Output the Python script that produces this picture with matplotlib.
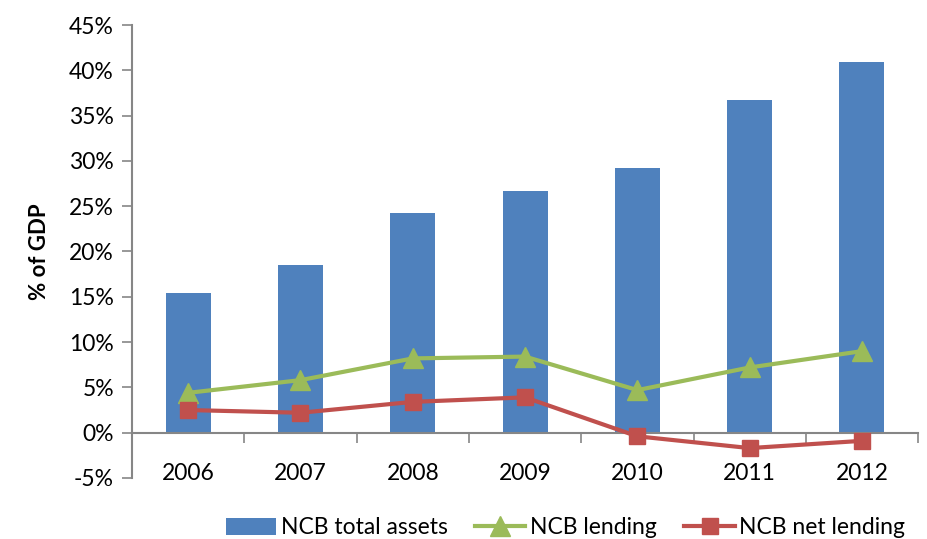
import numpy as np
import matplotlib.pyplot as plt
from matplotlib.ticker import FuncFormatter, MultipleLocator

years = ["2006", "2007", "2008", "2009", "2010", "2011", "2012"]
total_assets = [15.4, 18.5, 24.2, 26.7, 29.2, 36.7, 40.9]
lending = [4.4, 5.8, 8.2, 8.4, 4.7, 7.2, 9.0]
net_lending = [2.5, 2.2, 3.4, 3.9, -0.4, -1.7, -0.9]

plt.rcParams['font.family'] = ['Lato', 'DejaVu Sans']

fig = plt.figure(figsize=(9.27, 5.39), dpi=100)
ax = fig.add_axes([0.1424, 0.1132, 0.848, 0.8404])

x = np.arange(len(years))
bars = ax.bar(x, total_assets, width=0.4, color='#4F81BD', label='NCB total assets', zorder=2)
l1, = ax.plot(x, lending, color='#9BBB59', lw=3, marker='^', ms=14, label='NCB lending', zorder=3)
l2, = ax.plot(x, net_lending, color='#C0504D', lw=3, marker='s', ms=12, label='NCB net lending', zorder=4)

ax.set_xlim(-0.5, 6.5)
ax.set_ylim(-5, 45)
ax.yaxis.set_major_locator(MultipleLocator(5))
ax.yaxis.set_major_formatter(FuncFormatter(lambda v, p: f"{v:.0f}%"))

ax.spines['top'].set_visible(False)
ax.spines['right'].set_visible(False)
ax.spines['bottom'].set_position(('data', 0))
for s in ['left', 'bottom']:
    ax.spines[s].set_color('#868686')
    ax.spines[s].set_linewidth(1.5)

ax.set_xticks(x)
ax.set_xticklabels(years)
ax.set_xticks(np.arange(-0.5, 7, 1), minor=True)
ax.tick_params(axis='x', which='major', length=0, pad=22, labelsize=16.5)
ax.tick_params(axis='x', which='minor', length=7, width=1.2, color='#868686', direction='out')
ax.tick_params(axis='y', length=7, width=1.2, color='#868686', labelsize=16.5, pad=6)

ax.set_ylabel('% of GDP', fontsize=16, fontweight='bold', labelpad=14)

fig.legend([bars, l1, l2], ['NCB total assets', 'NCB lending', 'NCB net lending'],
           loc='center', bbox_to_anchor=(0.61, 1 - 528 / 539), ncol=3, frameon=False,
           fontsize=16.5, handlelength=2.2, columnspacing=1.2, handletextpad=0.2)

fig.savefig('out.png', dpi=100)
